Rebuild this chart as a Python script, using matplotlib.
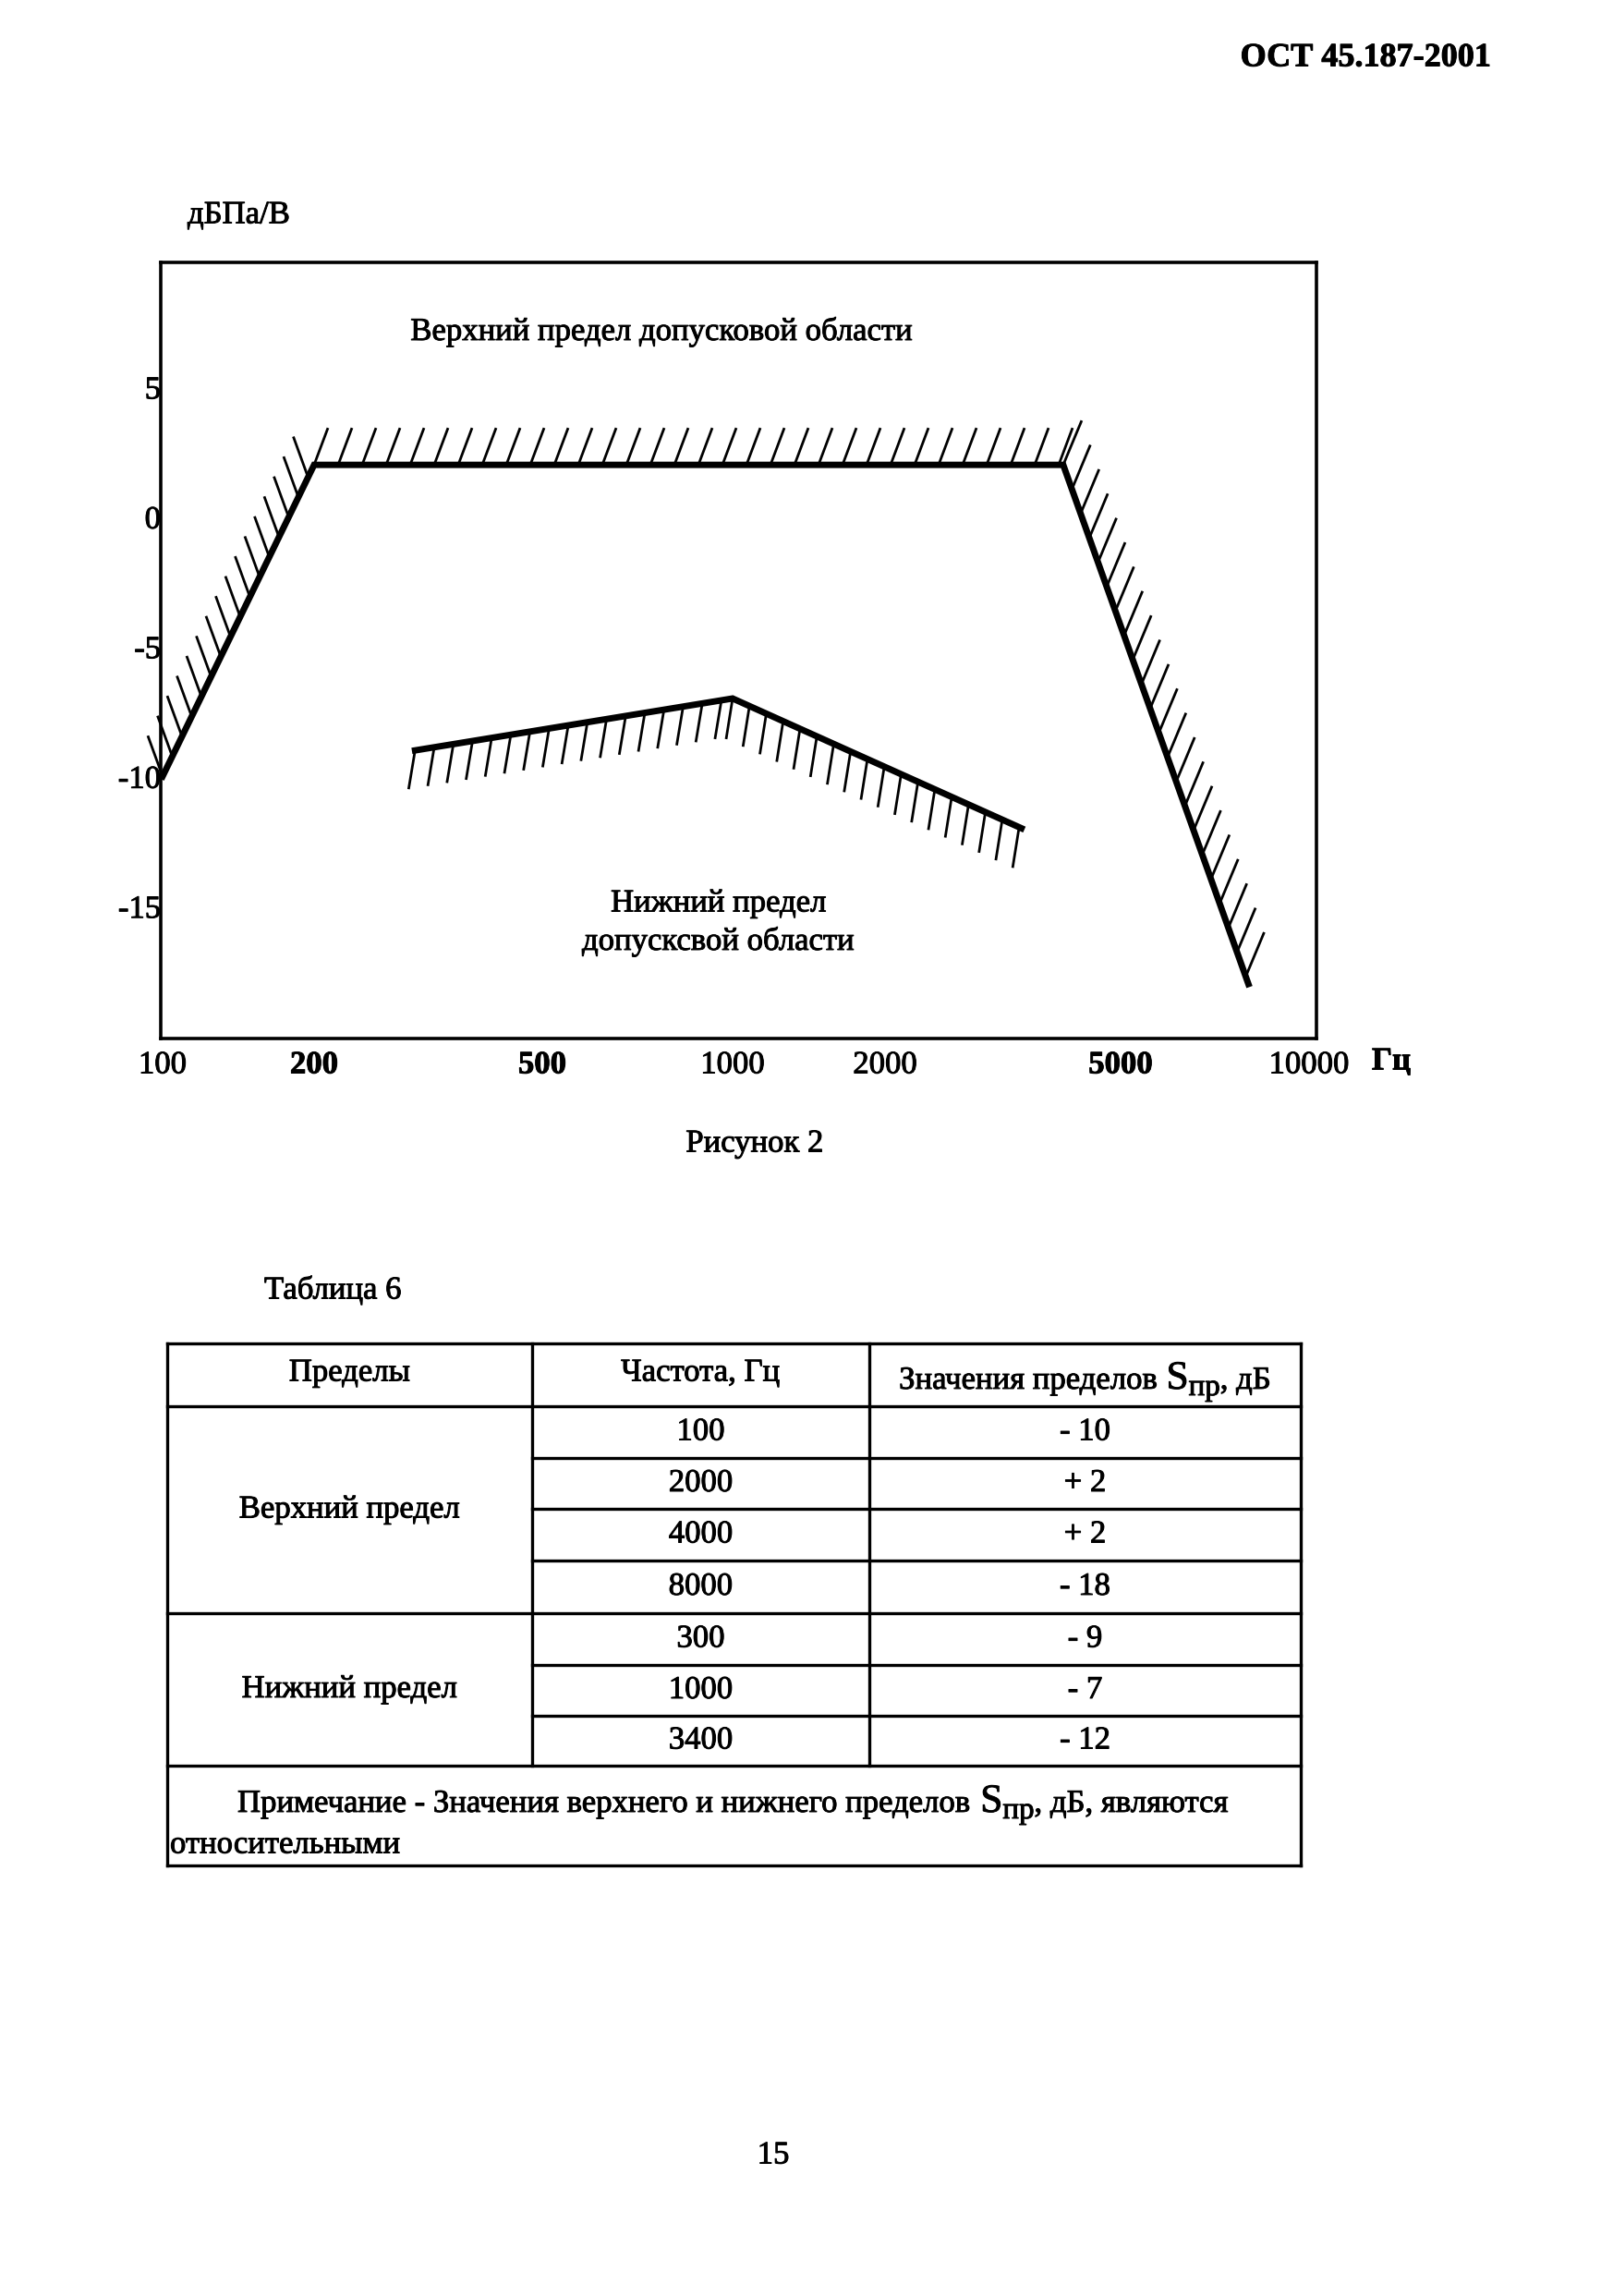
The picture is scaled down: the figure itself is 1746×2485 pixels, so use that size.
import numpy as np
import matplotlib
matplotlib.use('Agg')
import matplotlib.pyplot as plt
from matplotlib.lines import Line2D
import matplotlib.patheffects as pe

plt.rcParams['font.family'] = ['Liberation Serif', 'DejaVu Serif']

######### данные графика
upper_freq = [100, 200, 4000, 8000]
upper_level = [-10, 2, 2, -18]
lower_freq = [300, 1000, 3400]
lower_level = [-9, -7, -12]

xtick_vals = [100, 200, 500, 1000, 2000, 5000, 10000]
xtick_labels = ['100', '200', '500', '1000', '2000', '5000', '10000']
xtick_bold = [False, True, True, False, False, True, False]
ytick_vals = [5, 0, -5, -10, -15]
ytick_labels = ['5', '0', '-5', '-10', '-15']

######### данные таблицы
table_header = ['Пределы', 'Частота, Гц']
table_header_3 = [('Значения пределов ', 1.0, 0), ('S', 1.25, 0), ('пр', 0.95, -7), (', дБ', 1.0, 0)]
table_groups = ['Верхний предел', 'Нижний предел']
table_group_rows = [4, 3]
table_freq = ['100', '2000', '4000', '8000', '300', '1000', '3400']
table_values = ['- 10', '+ 2', '+ 2', '- 18', '- 9', '- 7', '- 12']
table_note_1 = [('Примечание - Значения верхнего и нижнего пределов ', 1.0, 0), ('S', 1.25, 0),
                ('пр', 0.95, -7), (', дБ, являются', 1.0, 0)]
table_note_2 = 'относительными'

W, H = 1746, 2485
fs = 25
ink = [pe.withStroke(linewidth=0.7, foreground='black')]


def fx(x):
    return x / W


def fy(y):
    return 1 - y / H


fig = plt.figure(figsize=(W / 100, H / 100), dpi=100)
renderer = fig.canvas.get_renderer()


def put(x, y, s, size=fs, **kw):
    kw.setdefault('va', 'center')
    return fig.text(fx(x), fy(y), s, fontsize=size, path_effects=ink, **kw)


def put_rich(x, y, parts, ha='left'):
    # строка с индексом: части (текст, масштаб шрифта, сдвиг по y в px)
    widths = []
    for s, k, dy in parts:
        t = fig.text(0, 0, s, fontsize=fs * k)
        widths.append(t.get_window_extent(renderer).width)
        t.remove()
    x0 = x - sum(widths) / 2 if ha == 'center' else x
    for (s, k, dy), w in zip(parts, widths):
        put(x0, y - dy, s, size=fs * k, ha='left', va='baseline')
        x0 += w


# ось частот нарисована от руки: положения подписей задают шкалу
anchor_f = np.array([50, 100, 200, 500, 1000, 2000, 5000, 10000, 20000])
anchor_u = np.array([12, 176, 340, 587, 793, 958, 1213, 1417, 1621])


def fwd(f):
    f = np.clip(np.asarray(f, dtype=float), 1e-3, None)
    return np.interp(np.log10(f), np.log10(anchor_f), anchor_u)


def inv(u):
    return 10 ** np.interp(u, anchor_u, np.log10(anchor_f))


ax_l, ax_r, ax_t, ax_b = 174, 1425, 284, 1124
ax = fig.add_axes([fx(ax_l), fy(ax_b), fx(ax_r - ax_l), (ax_b - ax_t) / H])
ax.set_xscale('function', functions=(fwd, inv))
ax.set_xlim(inv(ax_l), inv(ax_r))
ax.set_ylim(-20.1, 9.8)
for s in ax.spines.values():
    s.set_linewidth(2.6)
ax.set_xticks(xtick_vals)
ax.set_xticklabels(xtick_labels)
ax.xaxis.set_minor_locator(matplotlib.ticker.NullLocator())
for lab, b in zip(ax.get_xticklabels(), xtick_bold):
    lab.set_fontweight('bold' if b else 'normal')
    lab.set_path_effects(ink)
ax.set_yticks(ytick_vals)
ax.set_yticklabels(ytick_labels)
for lab in ax.get_yticklabels():
    lab.set_path_effects(ink)
ax.tick_params(axis='both', length=0, labelsize=fs)
ax.tick_params(axis='x', pad=9)
ax.tick_params(axis='y', pad=0)

ax.plot(upper_freq, upper_level, color='black', lw=5, solid_joinstyle='miter')
ax.plot(lower_freq, lower_level, color='black', lw=5, solid_joinstyle='miter')


def hatch(xs, ys, spacing, offsets, lw=2.0):
    # штриховка вдоль ломаной, offsets - смещение штриха (px) для каждого отрезка
    pts = ax.transData.transform(np.column_stack([xs, ys]))
    to_ax = ax.transAxes.inverted()
    for i in range(len(pts) - 1):
        p0, p1 = pts[i], pts[i + 1]
        seg = p1 - p0
        L = np.hypot(*seg)
        n = int(L // spacing[i])
        for k in range(n + 1):
            p = p0 + seg * (k * spacing[i] / L)
            q = p + np.array(offsets[i])
            a = to_ax.transform([p, q])
            ax.plot(a[:, 0], a[:, 1], color='black', lw=lw,
                    transform=ax.transAxes, clip_on=False, solid_capstyle='butt')


hatch(upper_freq, upper_level, [24, 26, 28], [(-16, 44), (15, 40), (20, 48)])
hatch(lower_freq, lower_level, [21, 20], [(-7, -42), (-7, -44)])

# подписи
put(1614, 63, 'ОСТ 45.187-2001', size=26, fontweight='bold', ha='right')
put(203, 233, 'дБПа/В', ha='left')
put(717, 359, 'Верхний предел допусковой области', ha='center')
put(778, 978, 'Нижний предел', ha='center')
put(778, 1019, 'допусксвой области', ha='center')
put(1506, 1149, 'Гц', fontweight='bold', ha='center')
put(817, 1238, 'Рисунок 2', ha='center')
put(286, 1397, 'Таблица 6', ha='left')
put(837, 2333, '15', ha='center')

######### таблица
t_l, t_r, t_t, t_b = 181, 1408, 1454, 2019
c1, c2 = 576, 941
row_y = [1522, 1578, 1633, 1689, 1746, 1802, 1857, 1911]
tlw = 2.4


def hline(x0, x1, y):
    fig.add_artist(Line2D([fx(x0), fx(x1)], [fy(y), fy(y)], color='black', lw=tlw))


def vline(x, y0, y1):
    fig.add_artist(Line2D([fx(x), fx(x)], [fy(y0), fy(y1)], color='black', lw=tlw))


hline(t_l, t_r, t_t)
hline(t_l, t_r, t_b)
vline(t_l, t_t, t_b)
vline(t_r, t_t, t_b)
vline(c1, t_t, row_y[-1])
vline(c2, t_t, row_y[-1])
hline(t_l, t_r, row_y[0])
hline(t_l, t_r, row_y[4])
hline(t_l, t_r, row_y[-1])
for i in [1, 2, 3, 5, 6]:
    hline(c1, t_r, row_y[i])

col_cx = [(t_l + c1) / 2, (c1 + c2) / 2, (c2 + t_r) / 2]
for cx, txt in zip(col_cx, table_header):
    put(cx, 1486, txt, ha='center')
put_rich(col_cx[2], 1503, table_header_3, ha='center')

for i, (fr, val) in enumerate(zip(table_freq, table_values)):
    cy = (row_y[i] + row_y[i + 1]) / 2
    put(col_cx[1], cy, fr, ha='center')
    put(col_cx[2], cy, val, ha='center')

start = 0
for g, n in zip(table_groups, table_group_rows):
    cy = (row_y[start] + row_y[start + n]) / 2
    put(col_cx[0], cy, g, ha='center')
    start += n

put_rich(257, 1961, table_note_1)
put(184, 1997, table_note_2, ha='left')

fig.savefig('out.png', dpi=100, facecolor='white')
